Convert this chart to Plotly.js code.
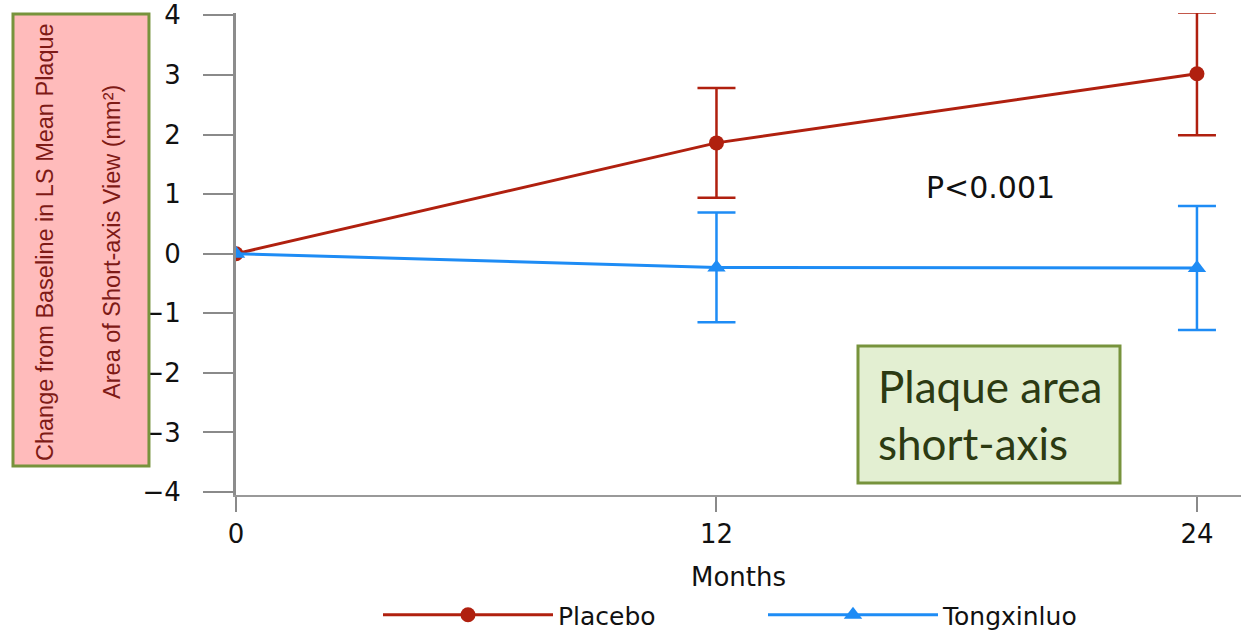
<!DOCTYPE html>
<html><head><meta charset="utf-8">
<script src="https://cdn.plot.ly/plotly-3.0.1.min.js"></script>
<style>html,body{margin:0;padding:0;background:#fff}#chart{width:1241px;height:634px}</style>
</head><body><div id="chart"></div>
<script>
const months = [0, 12, 24];
const placeboMean = [0, 1.86, 3.02];
const placeboErr = [NaN, 0.92, 1.03];
const tongxinluoMean = [0, -0.23, -0.24];
const tongxinluoErr = [NaN, 0.92, 1.04];
const seriesNames = ['Placebo', 'Tongxinluo'];
const xTicks = [0, 12, 24];
const yTicks = [-4, -3, -2, -1, 0, 1, 2, 3, 4];
const xTitle = 'Months';
const yTitleLines = ['Change from Baseline in LS Mean Plaque', 'Area of Short-axis View (mm²)'];
const boxLabel = ['Plaque area', 'short-axis'];
const pLabel = 'P<0.001';

const RED = '#B0200F', BLUE = '#1E8CF5';
const SANS = 'DejaVu Sans, Arial, sans-serif';
const axFont = {family: SANS, size: 26, color: '#111'};
const titleFont = {family: 'Liberation Sans, Arial, sans-serif', size: 23.5, color: '#7E1A16'};

const traces = [
  {x: months, y: placeboMean, name: seriesNames[0], type: 'scatter', mode: 'lines+markers',
   line: {color: RED, width: 3}, marker: {symbol: 'circle', size: 15, color: RED},
   error_y: {type: 'data', array: placeboErr, visible: true, color: RED, thickness: 2.5, width: 19}},
  {x: months, y: tongxinluoMean, name: seriesNames[1], type: 'scatter', mode: 'lines+markers',
   line: {color: BLUE, width: 3}, marker: {symbol: 'triangle-up', size: 16, color: BLUE},
   error_y: {type: 'data', array: tongxinluoErr, visible: true, color: BLUE, thickness: 2.5, width: 19}}
];

const layout = {
  width: 1241, height: 634,
  margin: {l: 236, r: 0, t: 13, b: 139},
  paper_bgcolor: '#fff', plot_bgcolor: '#fff',
  showlegend: true,
  legend: {orientation: 'h', xref: 'container', yref: 'container', x: 378 / 1241, xanchor: 'left',
           y: (634 - 615) / 634, yanchor: 'middle',
           font: {family: SANS, size: 25, color: '#111'},
           itemwidth: 170, entrywidth: 200, bgcolor: 'rgba(0,0,0,0)'},
  xaxis: {range: [0, 25.1], tickvals: xTicks, ticks: 'outside', ticklen: 15,
          tickwidth: 2, tickcolor: '#8a8a8a', showline: true, linecolor: '#999', linewidth: 2,
          showgrid: false, zeroline: false, tickfont: axFont, ticklabelstandoff: 0,
          title: {text: xTitle, font: {family: SANS, size: 26, color: '#111'}, standoff: 31}},
  yaxis: {range: [-4.05, 4.04], tickvals: yTicks, ticks: 'outside', ticklen: 30, tickwidth: 2,
          tickcolor: '#8a8a8a', showline: true, linecolor: '#8c8c8c', linewidth: 3,
          showgrid: false, zeroline: false, tickfont: axFont, ticklabelstandoff: 17},
  shapes: [
    {type: 'rect', xref: 'paper', yref: 'paper', x0: -0.2219, x1: -0.0866, y0: 0.0602, y1: 0.998,
     fillcolor: '#FFBBBB', line: {color: '#77933C', width: 3}, layer: 'above'},
    {type: 'rect', xref: 'paper', yref: 'paper', x0: 0.6189, x1: 0.8796, y0: 0.0249, y1: 0.3091,
     fillcolor: '#E3EFD2', line: {color: '#77933C', width: 3}, layer: 'above'}
  ],
  annotations: [
    {xref: 'paper', yref: 'paper', x: -0.1900, y: 0.525, xanchor: 'center', yanchor: 'middle',
     text: yTitleLines[0], textangle: -90, showarrow: false, font: titleFont},
    {xref: 'paper', yref: 'paper', x: -0.1234, y: 0.525, xanchor: 'center', yanchor: 'middle',
     text: yTitleLines[1], textangle: -90, showarrow: false, font: titleFont},
    {xref: 'paper', yref: 'paper', x: 0.6368, y: 0.167, xanchor: 'left', yanchor: 'middle',
     text: boxLabel.join('<br>'), showarrow: false, align: 'left',
     font: {family: 'Lato, Open Sans, sans-serif', size: 44, color: '#2C3A12'}},
    {xref: 'paper', yref: 'paper', x: 0.7512, y: 0.637, xanchor: 'center', yanchor: 'middle',
     text: pLabel, showarrow: false, font: {family: SANS, size: 30, color: '#111'}}
  ]
};

Plotly.newPlot('chart', traces, layout, {displayModeBar: false, staticPlot: true});
</script>
</body></html>
